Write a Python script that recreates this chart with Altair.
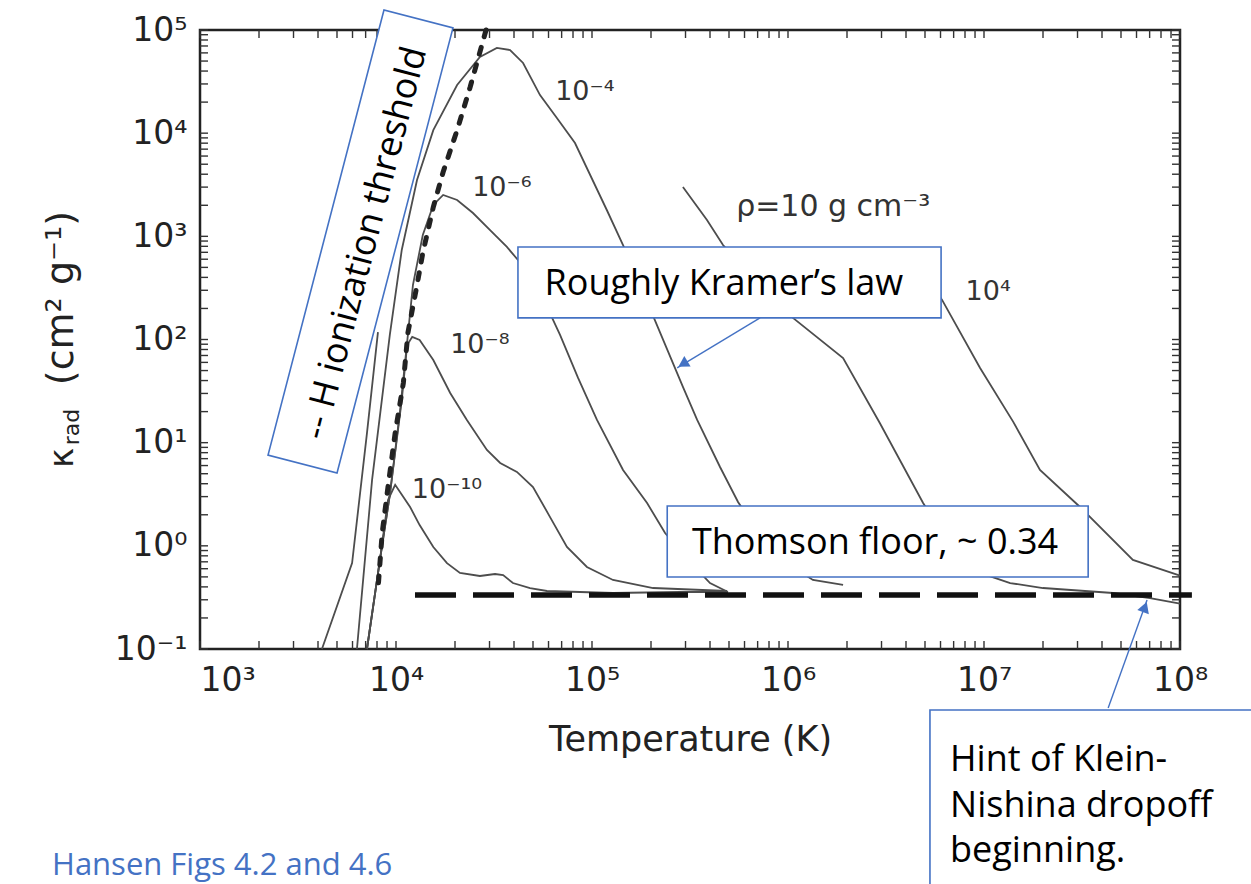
import altair as alt
import pandas as pd

# ---------------- data ----------------
# Temperature (K) / opacity (cm^2 g^-1) pairs for each density curve
T_M10 = [7.11e3, 8.28e3, 9.1e3, 9.9e3, 1.18e4, 1.32e4, 1.55e4, 1.82e4, 2.12e4, 2.68e4,
         3.2e4, 3.52e4, 3.95e4, 4.83e4, 5.89e4, 1.28e5, 2.81e5, 4.94e5]
K_M10 = [0.1, 0.73, 2.78, 3.9, 2.38, 1.59, 0.975, 0.68, 0.546, 0.51,
         0.533, 0.52, 0.436, 0.39, 0.365, 0.349, 0.357, 0.357]

T_M8 = [7.11e3, 8.28e3, 9.3e3, 1.07e4, 1.14e4, 1.21e4, 1.32e4, 1.55e4, 1.89e4, 2.3e4,
        2.91e4, 3.4e4, 4.14e4, 5.0e4, 6.11e4, 7.45e4, 9.42e4, 1.28e5, 2.05e5, 4.89e5]
K_M8 = [0.1, 0.73, 3.11, 25.9, 88.5, 106, 98.9, 63.2, 30.3, 16.6,
        8.49, 6.35, 5.2, 3.72, 1.9, 0.975, 0.624, 0.467, 0.39, 0.365]

T_M6 = [7.11e3, 8.28e3, 9.3e3, 1.05e4, 1.15e4, 1.22e4, 1.37e4, 1.55e4, 1.74e4, 2.05e4,
        2.47e4, 3.02e4, 3.68e4, 4.19e4, 5.43e4, 6.87e4, 8.49e4, 1.06e5, 1.44e5, 1.91e5,
        2.36e5, 3.09e5, 4.0e5, 4.94e5]
K_M6 = [0.1, 0.73, 3.11, 20.7, 111, 337, 1030, 2014, 2518, 2250,
        1683, 1151, 789, 590, 289, 111, 42.4, 16.6, 5.43, 2.6,
        1.33, 0.73, 0.436, 0.357]

T_M4 = [6.32e3, 7.55e3, 9.3e3, 1.07e4, 1.28e4, 1.55e4, 2.05e4, 2.68e4, 3.27e4, 3.82e4,
        4.45e4, 5.43e4, 6.62e4, 8.19e4, 1.19e5, 1.44e5, 2.09e5, 2.91e5, 3.44e5, 4.5e5,
        5.56e5, 7.2e5, 9.66e5, 1.34e6, 1.91e6]
K_M4 = [0.1, 4.35, 111, 738, 3516, 1.07e4, 2.93e4, 5.47e4, 6.7e4, 6.4e4,
        4.79e4, 2.34e4, 1.4e4, 8030, 1800, 824, 155, 34.7, 16.6, 5.81,
        2.66, 1.27, 0.697, 0.467, 0.418]

T_P1_LOW = [4.19e3, 5.97e3, 7.11e3, 8.09e3]
K_P1_LOW = [0.1, 0.682, 12.4, 118]

T_P1 = [2.91e5, 3.86e5, 4.66e5, 7.2e5, 1.06e6, 1.91e6, 2.94e6, 4.89e6, 6.71e6, 9.55e6,
        1.36e7, 2.0e7, 4.55e7, 7.03e7, 1.0e8]
K_P1 = [3006, 1439, 824, 337, 162, 66.2, 15.5, 2.6, 1.02, 0.546,
        0.436, 0.39, 0.349, 0.312, 0.276]

T_P4 = [5.3e6, 6.11e6, 9.55e6, 1.41e7, 1.93e7, 3.09e7, 5.75e7, 1.0e8]
K_P4 = [361, 242, 53, 15.9, 5.43, 2.38, 0.73, 0.515]

# H ionization threshold (thick dotted curve)
T_HION = [2.88e4, 2.39e4, 2.05e4, 1.74e4, 1.55e4, 1.37e4, 1.28e4, 1.15e4, 1.09e4, 9.9e3,
          9.1e3, 8.5e3, 8.09e3]
K_HION = [1e5, 2.8e4, 1.07e4, 4207, 1923, 690, 337, 116, 37.8, 12.4,
          3.72, 1.33, 0.373]

# Thomson floor
T_THOMSON = [1.25e4, 1.15e8]
K_THOMSON = [0.334, 0.334]

# curve labels
CURVE_LABELS = ["10⁻⁴", "10⁻⁶", "ρ=10  g  cm⁻³", "10⁴", "10⁻⁸", "10⁻¹⁰"]
CURVE_LABEL_T = [9.2e4, 3.47e4, 1.7e6, 1.05e7, 2.68e4, 1.82e4]
CURVE_LABEL_K = [2.5e4, 2944, 1925, 289, 88.5, 3.48]
CURVE_LABEL_SIZE = [27, 27, 30, 27, 27, 27]

# annotation boxes (T1, T2, K1, K2)
BOX_T1 = [4.19e4, 2.42e5, 5.3e6]
BOX_T2 = [6.04e6, 3.4e7, 2.56e8]
BOX_K1 = [789, 2.43, 0.02564]
BOX_K2 = [162, 0.499, 3.69e-4]

NOTE_TEXT = ["Roughly Kramer’s law", "Thomson floor, ~ 0.34"]
NOTE_T = [4.71e5, 2.78e6]
NOTE_K = [345, 1.066]

HINT_LINES = ["Hint of Klein-", "Nishina dropoff", "beginning."]
HINT_T = [6.71e6, 6.71e6, 6.71e6]
HINT_K = [8.39e-3, 3.0e-3, 1.1e-3]

SOURCE_TEXT = ["Hansen Figs 4.2 and 4.6"]
SOURCE_T = [175.8]
SOURCE_K = [7.9e-4]

ROT_TEXT = ["-- H ionization threshold"]
ROT_BOX_T = [6.59e3]
ROT_BOX_K = [891]
ROT_TEXT_T = [6.95e3]
ROT_TEXT_K = [861]

# arrows: start -> tip, and head position
ARROW_ID = ["kramer", "kramer", "hint", "hint"]
ARROW_T = [7.2e5, 2.72e5, 4.3e7, 6.79e7]
ARROW_K = [162, 53, 0.0268, 0.2985]
HEAD_T = [2.91e5, 6.62e7]
HEAD_K = [57.9, 0.255]
HEAD_ANGLE = [239, 20]

X_DECADE_LABELS = ["10³", "10⁴", "10⁵", "10⁶", "10⁷", "10⁸"]
Y_DECADE_LABELS = ["10⁻¹", "10⁰", "10¹", "10²", "10³", "10⁴", "10⁵"]

# ---------------- tables ----------------
series = [("1e-10", T_M10, K_M10), ("1e-8", T_M8, K_M8), ("1e-6", T_M6, K_M6),
          ("1e-4", T_M4, K_M4), ("10 low", T_P1_LOW, K_P1_LOW), ("10", T_P1, K_P1),
          ("1e4", T_P4, K_P4)]
rows = []
for name, ts, ks in series:
    for i, (t, k) in enumerate(zip(ts, ks)):
        rows.append({"series": name, "T": t, "K": k, "i": i})
curves = pd.DataFrame(rows)

hion = pd.DataFrame({"T": T_HION, "K": K_HION, "i": list(range(len(T_HION)))})
thomson = pd.DataFrame({"T": T_THOMSON, "K": K_THOMSON})
clabels = pd.DataFrame({"label": CURVE_LABELS, "T": CURVE_LABEL_T, "K": CURVE_LABEL_K,
                        "fs": CURVE_LABEL_SIZE})
boxes = pd.DataFrame({"T1": BOX_T1, "T2": BOX_T2, "K1": BOX_K1, "K2": BOX_K2})
notes = pd.DataFrame({"label": NOTE_TEXT, "T": NOTE_T, "K": NOTE_K})
hint = pd.DataFrame({"label": HINT_LINES, "T": HINT_T, "K": HINT_K})
source = pd.DataFrame({"label": SOURCE_TEXT, "T": SOURCE_T, "K": SOURCE_K})
rotbox = pd.DataFrame({"T": ROT_BOX_T, "K": ROT_BOX_K})
rottext = pd.DataFrame({"label": ROT_TEXT, "T": ROT_TEXT_T, "K": ROT_TEXT_K})
arrows = pd.DataFrame({"id": ARROW_ID, "T": ARROW_T, "K": ARROW_K, "i": [0, 1, 0, 1]})
heads = pd.DataFrame({"T": HEAD_T, "K": HEAD_K, "ang": HEAD_ANGLE})

# ---------------- scales / axes ----------------
W, H = 980, 619
xs = alt.Scale(type="log", domain=[1e3, 1e8], nice=False)
ys = alt.Scale(type="log", domain=[0.1, 1e5], nice=False)

X_TICKS = [m * 10.0 ** k for k in range(3, 8) for m in range(1, 10)] + [1e8]
Y_TICKS = [m * 10.0 ** k for k in range(-1, 5) for m in range(1, 10)] + [1e5]
xticks = pd.DataFrame({"T": X_TICKS})
yticks = pd.DataFrame({"K": Y_TICKS})


def js_array(lst):
    return "[" + ",".join("'" + s + "'" for s in lst) + "]"


E = "round(log(datum.value)/LN10)"
x_label_expr = f"abs(log(datum.value)/LN10 - {E}) < 0.01 ? {js_array(X_DECADE_LABELS)}[{E} - 3] : ''"
y_label_expr = f"abs(log(datum.value)/LN10 - {E}) < 0.01 ? {js_array(Y_DECADE_LABELS)}[{E} + 1] : ''"

TICK = 8
common_axis = dict(domain=False, grid=False, ticks=False, labelOverlap=False,
                   labelBound=False)

x_bottom = alt.Axis(orient="bottom", values=X_TICKS, labelExpr=x_label_expr,
                    labelFont="DejaVu Sans", labelFontSize=33, labelColor="#222",
                    labelPadding=15,
                    labelAlign={"condition": {"test": "datum.value < 2000", "value": "left"},
                                "value": "center"},
                    title="Temperature (K)", titleFont="DejaVu Sans", titleFontSize=35,
                    titleFontWeight="normal", titleColor="#222", titleY=101,
                    titleBaseline="alphabetic", **common_axis)
y_left = alt.Axis(orient="left", values=Y_TICKS, labelExpr=y_label_expr,
                  labelFont="DejaVu Sans", labelFontSize=33, labelColor="#222",
                  labelPadding=13, labelBaseline="middle", title=None, **common_axis)

CURVE = "#4d4d4d"
BLUE = "#4472C4"
TICK_COLOR = "#333"

curve_layer = alt.Chart(curves).mark_line(color=CURVE, strokeWidth=1.8).encode(
    x=alt.X("T:Q", scale=xs, axis=x_bottom),
    y=alt.Y("K:Q", scale=ys, axis=y_left),
    detail="series:N",
    order="i:Q",
)

# inward ticks on all four sides of the frame
tick_bottom = alt.Chart(xticks).mark_rule(color=TICK_COLOR, strokeWidth=1.4).encode(
    x=alt.X("T:Q", scale=xs, axis=None), y=alt.value(H - TICK), y2=alt.value(H))
tick_top = alt.Chart(xticks).mark_rule(color=TICK_COLOR, strokeWidth=1.4).encode(
    x=alt.X("T:Q", scale=xs, axis=None), y=alt.value(0), y2=alt.value(TICK))
tick_left = alt.Chart(yticks).mark_rule(color=TICK_COLOR, strokeWidth=1.4).encode(
    y=alt.Y("K:Q", scale=ys, axis=None), x=alt.value(0), x2=alt.value(TICK))
tick_right = alt.Chart(yticks).mark_rule(color=TICK_COLOR, strokeWidth=1.4).encode(
    y=alt.Y("K:Q", scale=ys, axis=None), x=alt.value(W - TICK), x2=alt.value(W))

thomson_layer = alt.Chart(thomson).mark_line(color="#111", strokeWidth=5.5,
                                             strokeDash=[41, 17]).encode(
    x=alt.X("T:Q", scale=xs, axis=None),
    y=alt.Y("K:Q", scale=ys, axis=None),
)

hion_layer = alt.Chart(hion).mark_line(color="#222", strokeWidth=5, strokeDash=[7, 11],
                                       strokeCap="round").encode(
    x=alt.X("T:Q", scale=xs, axis=None),
    y=alt.Y("K:Q", scale=ys, axis=None),
    order="i:Q",
)

clabel_layer = alt.Chart(clabels).mark_text(font="DejaVu Sans", color="#333",
                                            align="center", baseline="middle").encode(
    x=alt.X("T:Q", scale=xs, axis=None),
    y=alt.Y("K:Q", scale=ys, axis=None),
    text="label:N",
    size=alt.Size("fs:Q", scale=None, legend=None),
)

box_layer = alt.Chart(boxes).mark_rect(fill="white", stroke=BLUE, strokeWidth=1.6).encode(
    x=alt.X("T1:Q", scale=xs, axis=None), x2="T2:Q",
    y=alt.Y("K1:Q", scale=ys, axis=None), y2="K2:Q",
)

ROT_PATH = "M-1,-0.155L1,-0.155L1,0.155L-1,0.155Z"
rotbox_layer = alt.Chart(rotbox).mark_point(shape=ROT_PATH, size=460 ** 2, angle=284.6,
                                            filled=True, fill="white", stroke=BLUE,
                                            strokeWidth=1.6, opacity=1).encode(
    x=alt.X("T:Q", scale=xs, axis=None),
    y=alt.Y("K:Q", scale=ys, axis=None),
)

rottext_layer = alt.Chart(rottext).mark_text(font="Open Sans", fontSize=36, color="black",
                                             angle=284.6, align="center",
                                             baseline="middle").encode(
    x=alt.X("T:Q", scale=xs, axis=None),
    y=alt.Y("K:Q", scale=ys, axis=None),
    text="label:N",
)

note_layer = alt.Chart(notes).mark_text(font="Open Sans", fontSize=36, color="black",
                                        align="center", baseline="middle").encode(
    x=alt.X("T:Q", scale=xs, axis=None),
    y=alt.Y("K:Q", scale=ys, axis=None),
    text="label:N",
)

hint_layer = alt.Chart(hint).mark_text(font="Open Sans", fontSize=36, color="black",
                                       align="left", baseline="middle").encode(
    x=alt.X("T:Q", scale=xs, axis=None),
    y=alt.Y("K:Q", scale=ys, axis=None),
    text="label:N",
)

source_layer = alt.Chart(source).mark_text(font="Open Sans", fontSize=31, color=BLUE,
                                           align="left", baseline="middle").encode(
    x=alt.X("T:Q", scale=xs, axis=None),
    y=alt.Y("K:Q", scale=ys, axis=None),
    text="label:N",
)

arrow_layer = alt.Chart(arrows).mark_line(color=BLUE, strokeWidth=1.4).encode(
    x=alt.X("T:Q", scale=xs, axis=None),
    y=alt.Y("K:Q", scale=ys, axis=None),
    detail="id:N",
    order="i:Q",
)

head_layer = alt.Chart(heads).mark_point(shape="triangle-up", size=150, filled=True,
                                         color=BLUE, opacity=1).encode(
    x=alt.X("T:Q", scale=xs, axis=None),
    y=alt.Y("K:Q", scale=ys, axis=None),
    angle=alt.Angle("ang:Q", scale=None),
)

# y-axis title pieces (kappa with subscript)
ytitle_k = alt.Chart(pd.DataFrame({"t": ["κ"]})).mark_text(
    font="DejaVu Sans", fontSize=34, color="#222", angle=270, align="center",
    baseline="middle").encode(text="t:N", x=alt.value(-137), y=alt.value(428))
ytitle_rad = alt.Chart(pd.DataFrame({"t": ["rad"]})).mark_text(
    font="DejaVu Sans", fontSize=22, color="#222", angle=270, align="center",
    baseline="middle").encode(text="t:N", x=alt.value(-128), y=alt.value(397))
ytitle_unit = alt.Chart(pd.DataFrame({"t": ["(cm²   g⁻¹)"]})).mark_text(
    font="DejaVu Sans", fontSize=38, color="#222", angle=270, align="center",
    baseline="middle").encode(text="t:N", x=alt.value(-138), y=alt.value(268))

chart = alt.layer(
    curve_layer, tick_bottom, tick_top, tick_left, tick_right,
    thomson_layer, hion_layer, clabel_layer,
    box_layer, rotbox_layer, rottext_layer, note_layer, hint_layer, source_layer,
    arrow_layer, head_layer, ytitle_k, ytitle_rad, ytitle_unit,
).resolve_axis(x="independent", y="independent").properties(
    width=W, height=H,
    padding={"left": 200, "top": 30, "right": 71, "bottom": 235},
    autosize=alt.AutoSizeParams(type="none"),
    background="white",
).configure_view(stroke="#222", strokeWidth=2.5)

chart.save("out.html", embed_options={"renderer": "svg", "actions": False})
